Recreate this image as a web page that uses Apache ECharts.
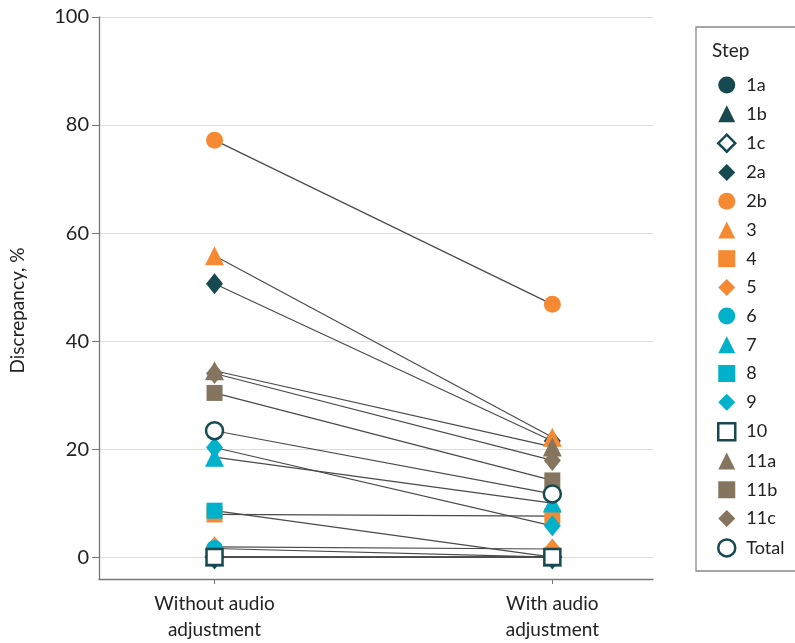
<!DOCTYPE html>
<html>
<head>
<meta charset="utf-8">
<script src="https://cdn.jsdelivr.net/npm/echarts@6.0.0/dist/echarts.min.js"></script>
<style>
  html, body { margin: 0; padding: 0; background: #fff; }
  #chart { width: 795px; height: 643px; }
</style>
</head>
<body>
<div id="chart"></div>
<script>
// steps in legend order
var steps = ['1a', '1b', '1c', '2a', '2b', '3', '4', '5', '6', '7', '8', '9', '10', '11a', '11b', '11c', 'Total'];
// discrepancy, % without / with audio adjustment
var withoutAudio = [0, 0, 0, 50.6, 77.2, 55.8, 7.9, 1.9, 1.6, 18.5, 8.6, 20.3, 0, 34.5, 30.4, 34.0, 23.4];
var withAudio = [0, 0, 0, 21.5, 46.8, 22.2, 7.6, 1.5, 0, 10.0, 0, 5.8, 0, 20.4, 14.2, 17.9, 11.7];
var conditions = ['Without audio\nadjustment', 'With audio\nadjustment'];
var yTicks = [0, 20, 40, 60, 80, 100];

var dark = '#164a50', orange = '#f68a33', cyan = '#00b1cc', brown = '#85755f';
var markStyle = {
  '1a': ['circle', dark], '1b': ['triangle', dark], '1c': ['diamond', dark, true], '2a': ['diamond', dark],
  '2b': ['circle', orange], '3': ['triangle', orange], '4': ['rect', orange], '5': ['diamond', orange],
  '6': ['circle', cyan], '7': ['triangle', cyan], '8': ['rect', cyan], '9': ['diamond', cyan],
  '10': ['rect', dark, true], '11a': ['triangle', brown], '11b': ['rect', brown], '11c': ['diamond', brown],
  'Total': ['circle', dark, true]
};
var sizes = { circle: 17, triangle: 19, rect: 16, diamond: [17, 21] };

function itemStyleFor(s) {
  var m = markStyle[s];
  if (m[2]) return { color: '#fff', borderColor: m[1], borderWidth: 2.5, opacity: 1 };
  return { color: m[1], opacity: 1 };
}

var myChart = echarts.init(document.getElementById('chart'));
var series = [];
steps.forEach(function (s, i) {
  series.push({
    type: 'line',
    name: s + '-line',
    data: [[0, withoutAudio[i]], [1, withAudio[i]]],
    symbol: 'none',
    lineStyle: { color: '#4a4a4a', width: 1.2 },
    silent: true,
    z: 1
  });
});
steps.forEach(function (s, i) {
  var m = markStyle[s];
  series.push({
    type: 'scatter',
    name: s,
    data: [[0, withoutAudio[i]], [1, withAudio[i]]],
    symbol: m[0],
    symbolSize: sizes[m[0]],
    itemStyle: itemStyleFor(s),
    z: 2
  });
});

var baseFont = 'Lato';
var option = {
  animation: false,
  textStyle: { fontFamily: baseFont },
  grid: { left: 97, top: 17, width: 556, height: 563 },
  xAxis: {
    type: 'value',
    min: -0.342,
    max: 1.298,
    splitLine: { show: false },
    axisLine: { show: true, onZero: false, lineStyle: { color: '#777', width: 1.3 } },
    axisTick: { show: true, customValues: [0, 1], length: 5, lineStyle: { color: '#777' } },
    axisLabel: {
      customValues: [0, 1],
      formatter: function (v) { return conditions[Math.round(v)]; },
      fontSize: 19, color: '#222', lineHeight: 26, margin: 12
    }
  },
  yAxis: {
    type: 'value',
    min: -4.05,
    max: 100,
    name: 'Discrepancy, %',
    nameLocation: 'middle',
    nameGap: 72,
    nameTextStyle: { fontSize: 19, color: '#222', padding: [0, 0, 0, -25] },
    axisLine: { show: true, onZero: false, lineStyle: { color: '#777', width: 1.3 } },
    axisTick: { show: true, customValues: yTicks, length: 7, lineStyle: { color: '#777' } },
    axisLabel: { customValues: yTicks, fontSize: 20, color: '#222', margin: 10 },
    splitLine: { show: true, lineStyle: { color: '#ddd', width: 1.2 } }
  },
  legend: {
    orient: 'vertical',
    left: 712,
    top: 71,
    itemWidth: 17,
    itemHeight: 17,
    itemGap: 10.7,
    textStyle: { fontSize: 18, color: '#222', padding: [0, 0, 0, 6] },
    data: steps.map(function (s) {
      var m = markStyle[s];
      return { name: s, icon: m[0], itemStyle: itemStyleFor(s) };
    })
  },
  graphic: [
    {
      type: 'rect',
      shape: { x: 696, y: 27, width: 120, height: 544 },
      style: { fill: 'none', stroke: '#888', lineWidth: 1.3 },
      silent: true
    },
    {
      type: 'text',
      x: 712,
      y: 51,
      style: { text: 'Step', fontSize: 19, fill: '#222', fontFamily: baseFont, verticalAlign: 'middle' },
      silent: true
    }
  ],
  series: series
};

myChart.setOption(option);
</script>
</body>
</html>
